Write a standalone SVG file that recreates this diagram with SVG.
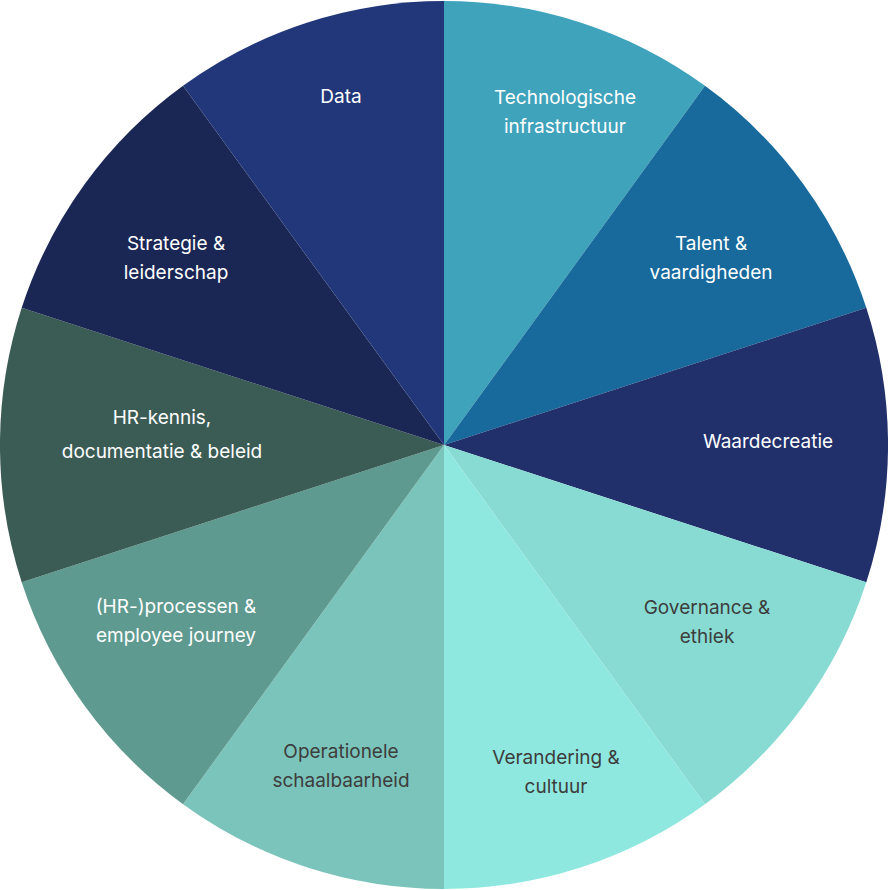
<svg xmlns="http://www.w3.org/2000/svg" width="888" height="890" viewBox="0 0 888 890">
<style>
text{font-family:Inter,"Liberation Sans",sans-serif;font-size:19px;text-anchor:middle}
.w{fill:#ffffff}.d{fill:#3d3d3d}
</style>
<rect width="888" height="890" fill="#ffffff"/>
<g id="s1"><path d="M444,445 L444,1 A444,444 0 0 1 705,85.8 Z" fill="#3fa3bb"/><text class="w" x="565" y="104">Technologische</text><text class="w" x="565" y="133">infrastructuur</text></g>
<g id="s2"><path d="M444,445 L705,85.8 A444,444 0 0 1 866.3,307.8 Z" fill="#176a9b"/><text class="w" x="711" y="250">Talent &amp;</text><text class="w" x="711" y="279">vaardigheden</text></g>
<g id="s3"><path d="M444,445 L866.3,307.8 A444,444 0 0 1 866.3,582.2 Z" fill="#212f6b"/><text class="w" x="768" y="448">Waardecreatie</text></g>
<g id="s4"><path d="M444,445 L866.3,582.2 A444,444 0 0 1 705,804.2 Z" fill="#88dbd3"/><text class="d" x="707" y="614">Governance &amp;</text><text class="d" x="707" y="643">ethiek</text></g>
<g id="s5"><path d="M444,445 L705,804.2 A444,444 0 0 1 444,889 Z" fill="#8fe8e0"/><text class="d" x="556" y="764">Verandering &amp;</text><text class="d" x="556" y="793">cultuur</text></g>
<g id="s6"><path d="M444,445 L444,889 A444,444 0 0 1 183,804.2 Z" fill="#7bc4bb"/><text class="d" x="341" y="758">Operationele</text><text class="d" x="341" y="787">schaalbaarheid</text></g>
<g id="s7"><path d="M444,445 L183,804.2 A444,444 0 0 1 21.7,582.2 Z" fill="#5e9a8f"/><text class="w" x="176" y="613">(HR-)processen &amp;</text><text class="w" x="176" y="642">employee journey</text></g>
<g id="s8"><path d="M444,445 L21.7,582.2 A444,444 0 0 1 21.7,307.8 Z" fill="#3b5c55"/><text class="w" x="162" y="424">HR-kennis,</text><text class="w" x="162" y="458">documentatie &amp; beleid</text></g>
<g id="s9"><path d="M444,445 L21.7,307.8 A444,444 0 0 1 183,85.8 Z" fill="#1a2654"/><text class="w" x="176" y="250">Strategie &amp;</text><text class="w" x="176" y="279">leiderschap</text></g>
<g id="s10"><path d="M444,445 L183,85.8 A444,444 0 0 1 444,1 Z" fill="#22377a"/><text class="w" x="341" y="103">Data</text></g>
<g id="connectors"/>
</svg>
